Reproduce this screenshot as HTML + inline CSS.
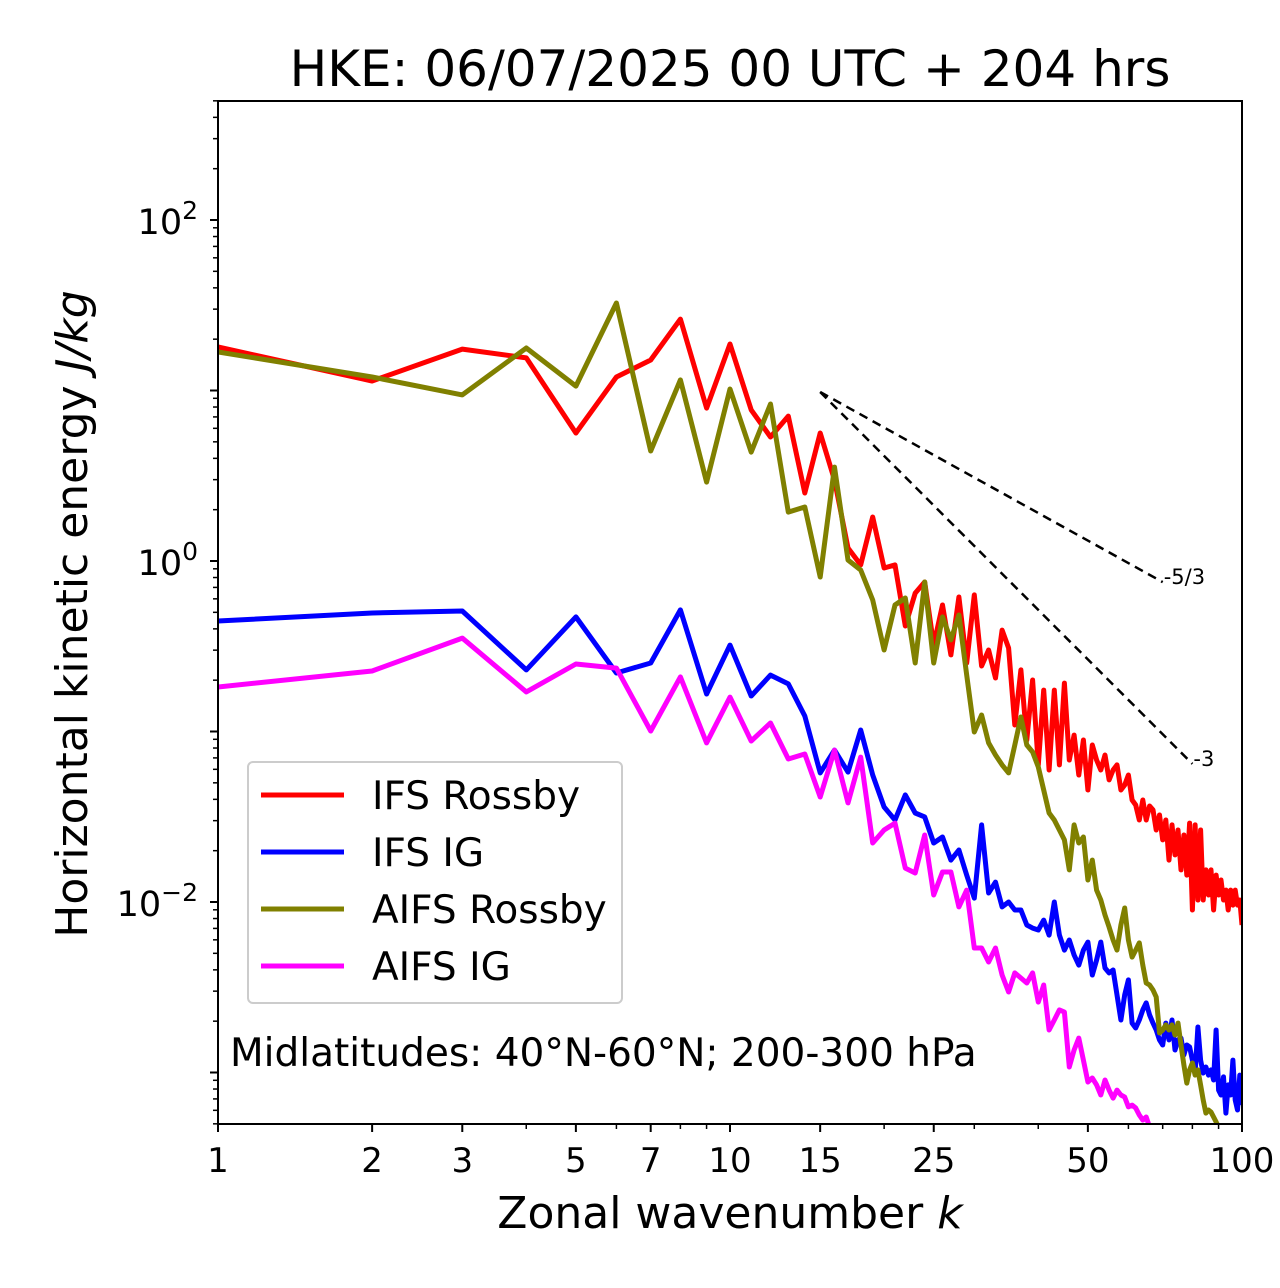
<!DOCTYPE html>
<html><head><meta charset="utf-8"><style>
html,body{margin:0;padding:0;background:#fff;}
svg{display:block;font-family:"DejaVu Sans","Liberation Sans",sans-serif;}
</style></head><body>
<svg id="chart" width="1280" height="1288" viewBox="0 0 1280 1288" xmlns="http://www.w3.org/2000/svg">
<defs><clipPath id="plotclip"><rect x="218" y="101" width="1024" height="1023"/></clipPath></defs>
<text x="730" y="86" font-size="50" text-anchor="middle">HKE: 06/07/2025 00 UTC + 204 hrs</text>
<g id="series" clip-path="url(#plotclip)"></g>
<g id="refs"></g>
<rect x="218" y="101" width="1024" height="1023" fill="none" stroke="#000" stroke-width="2"/>
<g id="axes"></g>
<text x="730" y="1228" font-size="44" text-anchor="middle">Zonal wavenumber <tspan font-style="italic">k</tspan></text>
<text transform="translate(87,614) rotate(-90)" font-size="44" text-anchor="middle">Horizontal kinetic energy <tspan font-style="italic">J/kg</tspan></text>
<g>
<rect x="248" y="762" width="374" height="241" rx="5" fill="#fff" fill-opacity="0.8" stroke="#ccc" stroke-width="2"/>
<line x1="261" y1="795" x2="344" y2="795" stroke="#ff0000" stroke-width="5"/>
<text x="372" y="809" font-size="39">IFS Rossby</text>
<line x1="261" y1="852" x2="344" y2="852" stroke="#0000ff" stroke-width="5"/>
<text x="372" y="866" font-size="39">IFS IG</text>
<line x1="261" y1="909" x2="344" y2="909" stroke="#808000" stroke-width="5"/>
<text x="372" y="923" font-size="39">AIFS Rossby</text>
<line x1="261" y1="966" x2="344" y2="966" stroke="#ff00ff" stroke-width="5"/>
<text x="372" y="980" font-size="39">AIFS IG</text>
</g>
<text x="230" y="1066" font-size="39">Midlatitudes: 40°N-60°N; 200-300 hPa</text>
</svg>
<script>
// log10 of horizontal kinetic energy (J/kg), k = 1..N
const ifsRossbyLog10 = [1.255,1.056,1.243,1.191,0.751,1.079,1.179,1.419,0.897,1.273,0.886,0.727,0.850,0.399,0.751,0.475,0.076,-0.023,0.258,-0.041,-0.023,-0.381,-0.188,-0.123,-0.493,-0.258,-0.551,-0.211,-0.598,-0.199,-0.616,-0.522,-0.686,-0.405,-0.510,-0.962,-0.639,-1.050,-0.698,-1.196,-0.757,-1.226,-0.757,-1.196,-0.716,-1.167,-1.021,-1.255,-1.050,-1.343,-1.079,-1.167,-1.226,-1.138,-1.284,-1.226,-1.196,-1.343,-1.314,-1.255,-1.402,-1.431,-1.519,-1.402,-1.519,-1.437,-1.460,-1.578,-1.490,-1.636,-1.519,-1.754,-1.548,-1.724,-1.578,-1.812,-1.607,-1.842,-1.537,-2.047,-1.548,-1.988,-1.578,-1.988,-1.812,-1.959,-1.812,-2.047,-1.842,-1.959,-1.871,-1.988,-1.930,-2.047,-1.930,-2.018,-1.930,-2.018,-1.988,-2.135];
const ifsIgLog10 = [-0.352,-0.305,-0.293,-0.639,-0.328,-0.657,-0.598,-0.287,-0.780,-0.493,-0.792,-0.669,-0.721,-0.909,-1.243,-1.109,-1.238,-0.991,-1.255,-1.443,-1.519,-1.372,-1.478,-1.501,-1.654,-1.619,-1.754,-1.695,-1.842,-1.977,-1.548,-1.947,-1.883,-2.029,-2.000,-2.047,-2.047,-2.135,-2.153,-2.164,-2.106,-2.194,-2.000,-2.194,-2.282,-2.223,-2.311,-2.370,-2.282,-2.235,-2.428,-2.340,-2.235,-2.387,-2.416,-2.399,-2.545,-2.692,-2.545,-2.457,-2.710,-2.739,-2.692,-2.633,-2.592,-2.663,-2.710,-2.751,-2.809,-2.839,-2.710,-2.809,-2.692,-2.868,-2.809,-2.798,-2.897,-2.839,-2.850,-2.927,-3.003,-2.733,-2.927,-3.003,-2.968,-3.015,-2.985,-3.044,-2.751,-3.103,-3.132,-3.026,-3.238,-3.073,-3.132,-2.927,-3.161,-3.220,-3.015,-3.191];
const aifsRossbyLog10 = [1.226,1.079,0.974,1.249,1.026,1.513,0.645,1.062,0.463,1.009,0.639,0.921,0.287,0.317,-0.094,0.551,0.006,-0.053,-0.229,-0.522,-0.258,-0.217,-0.598,-0.123,-0.598,-0.328,-0.463,-0.317,-0.669,-1.003,-0.903,-1.067,-1.138,-1.196,-1.243,-1.079,-0.915,-1.079,-1.120,-1.208,-1.343,-1.478,-1.519,-1.578,-1.636,-1.812,-1.548,-1.654,-1.619,-1.871,-1.754,-1.930,-1.988,-2.076,-2.147,-2.223,-2.282,-2.135,-2.035,-2.223,-2.323,-2.282,-2.240,-2.370,-2.475,-2.487,-2.516,-2.557,-2.768,-2.751,-2.721,-2.751,-2.721,-2.780,-2.710,-2.839,-2.956,-3.062,-2.985,-2.944,-3.015,-2.985,-3.073,-3.161,-3.238,-3.220,-3.232,-3.261,-3.290,-3.320,-3.37,-3.40,-3.43,-3.46,-3.48,-3.51,-3.54,-3.57,-3.60,-3.63];
const aifsIgLog10 = [-0.739,-0.645,-0.452,-0.768,-0.604,-0.628,-0.997,-0.680,-1.067,-0.798,-1.056,-0.950,-1.161,-1.132,-1.384,-1.109,-1.419,-1.150,-1.654,-1.578,-1.537,-1.801,-1.830,-1.607,-1.959,-1.824,-1.824,-2.029,-1.930,-2.270,-2.270,-2.352,-2.270,-2.428,-2.528,-2.416,-2.446,-2.475,-2.416,-2.587,-2.487,-2.751,-2.692,-2.633,-2.645,-2.968,-2.868,-2.798,-2.927,-3.056,-3.032,-3.073,-3.132,-3.044,-3.103,-3.150,-3.103,-3.132,-3.144,-3.202,-3.191,-3.208,-3.249,-3.279,-3.261,-3.320,-3.34,-3.37,-3.40,-3.43,-3.46,-3.49,-3.52,-3.55,-3.58];
const xTickLabels = [1,2,3,5,7,10,15,25,50,100];
const xMinorTicks = [4,6,8,9,20,30,40,60,70,80,90];
const yMajorExps = [-2,0,2];

const NS='http://www.w3.org/2000/svg';
const X0=218,X1=1242,YTOP=101,YBOT=1124;
const Y_AT_0=561, PX_PER_DEC=170.5;
function xScale(k){return X0+(X1-X0)*Math.log10(k)/2;}
function yScaleLog(e){return Y_AT_0-e*PX_PER_DEC;}
function mk(tag,attrs,parent){const el=document.createElementNS(NS,tag);for(const a in attrs)el.setAttribute(a,attrs[a]);parent.appendChild(el);return el;}

const seriesG=document.getElementById('series');
[['ifs-rossby',ifsRossbyLog10,'#ff0000'],['ifs-ig',ifsIgLog10,'#0000ff'],['aifs-rossby',aifsRossbyLog10,'#808000'],['aifs-ig',aifsIgLog10,'#ff00ff']].forEach(([name,arr,col])=>{
  const pts=arr.map((e,i)=>xScale(i+1).toFixed(1)+','+yScaleLog(e).toFixed(1)).join(' ');
  const pl=mk('polyline',{points:pts,fill:'none',stroke:col,'stroke-width':5,'stroke-linejoin':'round'},seriesG);
  
  
});

const refs=document.getElementById('refs');
const k0=15,k53=70,k3=80,e0=Math.log10(9.8);
const l1=mk('line',{x1:xScale(k0),y1:yScaleLog(e0),x2:xScale(k53),y2:yScaleLog(e0-5/3*Math.log10(k53/k0)),stroke:'#000','stroke-width':2.5,'stroke-dasharray':'9,6'},refs);


const l2=mk('line',{x1:xScale(k0),y1:yScaleLog(e0),x2:xScale(k3),y2:yScaleLog(e0-3*Math.log10(k3/k0)),stroke:'#000','stroke-width':2.5,'stroke-dasharray':'9,6'},refs);


const t1=mk('text',{x:xScale(k53)+1,y:yScaleLog(e0-5/3*Math.log10(k53/k0))+2,'font-size':21},refs);
t1.textContent='-5/3';


const t2=mk('text',{x:xScale(k3)+1,y:yScaleLog(e0-3*Math.log10(k3/k0))+2,'font-size':21},refs);
t2.textContent='-3';



const axes=document.getElementById('axes');
xTickLabels.forEach(k=>{
  const x=xScale(k);
  const tk=mk('line',{x1:x,y1:YBOT,x2:x,y2:YBOT+8,stroke:'#000','stroke-width':2},axes);
  
  
  const tl=mk('text',{x:x,y:YBOT+48,'font-size':34,'text-anchor':'middle'},axes);
  tl.textContent=String(k);
  
  
});
xMinorTicks.forEach(k=>{
  const x=xScale(k);
  const tk=mk('line',{x1:x,y1:YBOT,x2:x,y2:YBOT+5,stroke:'#000','stroke-width':1.5},axes);
  
  
});
for(let d=-4;d<=2;d++){
  for(let m=1;m<=9;m++){
    const y=yScaleLog(d+Math.log10(m));
    if(y<YTOP-0.5||y>YBOT+0.5)continue;
    const major=(m===1);
    const tk=mk('line',{x1:X0,y1:y,x2:X0-(major?8:5),y2:y,stroke:'#000','stroke-width':major?2:1.5},axes);
    
    
  }
}
yMajorExps.forEach(e=>{
  const y=yScaleLog(e);
  const tl=mk('text',{x:198,y:y+14,'font-size':35,'text-anchor':'end'},axes);
  const b=document.createElementNS(NS,'tspan');b.textContent='10';tl.appendChild(b);
  const s=document.createElementNS(NS,'tspan');s.setAttribute('dy','-15');s.setAttribute('font-size','25');s.textContent=(e<0?'\u2212':'')+Math.abs(e);tl.appendChild(s);
  
  
});
</script>
</body></html>
